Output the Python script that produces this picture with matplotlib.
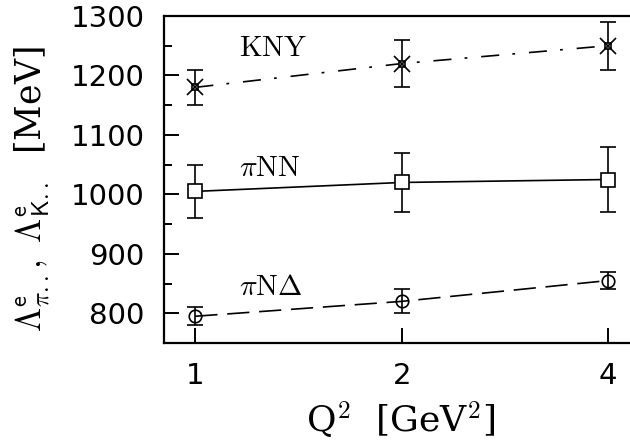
import matplotlib
matplotlib.use("Agg")
import matplotlib.pyplot as plt
from matplotlib.ticker import FixedLocator, NullLocator, MultipleLocator

plt.rcParams['mathtext.fontset'] = 'cm'
plt.rcParams['lines.scale_dashes'] = False

q2 = [1, 2, 4]
kny = [1180, 1220, 1250]
kny_err = [30, 40, 40]
pinn = [1005, 1020, 1025]
pinn_err = [45, 50, 55]
pind = [795, 820, 855]
pind_err = [15, 20, 15]
xticks = [1, 2, 4]
xticklabels = ['1', '2', '4']
yticks = [800, 900, 1000, 1100, 1200, 1300]

fig = plt.figure(figsize=(6.3, 4.44), dpi=100)
ax = fig.add_axes([164/630, 101/444, 1 - 164/630 + 0.01, 327/444])
ax.set_xscale('log')
ax.set_xlim(0.9, 4.4)
ax.set_ylim(750, 1300)

lw = 1.2
# KNY
ax.errorbar(q2, kny, yerr=kny_err, fmt='none', ecolor='black', elinewidth=lw, capsize=6, capthick=lw)
ax.plot(q2, kny, color='black', lw=lw, dashes=(13, 9.5, 2, 10))
ax.plot(q2, kny, ls='none', marker='s', ms=4, mfc='white', mec='black', mew=lw)
ax.plot(q2, kny, ls='none', marker='x', ms=11, mec='black', mew=lw)
# pi N N
ax.errorbar(q2, pinn, yerr=pinn_err, fmt='none', ecolor='black', elinewidth=lw, capsize=6, capthick=lw)
ax.plot(q2, pinn, color='black', lw=lw, ls='-')
ax.plot(q2, pinn, ls='none', marker='s', ms=9.5, mfc='white', mec='black', mew=lw)
# pi N Delta
ax.errorbar(q2, pind, yerr=pind_err, fmt='none', ecolor='black', elinewidth=lw, capsize=6, capthick=lw)
ax.plot(q2, pind, color='black', lw=lw, dashes=(16, 7))
ax.plot(q2, pind, ls='none', marker='o', ms=9, mfc='none', mec='black', mew=lw)

ax.text(1.157, 1246, r'$\rm KNY$', fontsize=21, ha='left', va='center')
ax.text(1.157, 1044, r'$\pi\rm NN$', fontsize=21, ha='left', va='center')
ax.text(1.157, 844, r'$\pi{\rm N}\Delta$', fontsize=21, ha='left', va='center')

ax.xaxis.set_major_locator(FixedLocator(xticks))
ax.set_xticklabels(xticklabels)
ax.xaxis.set_minor_locator(NullLocator())
ax.yaxis.set_major_locator(FixedLocator(yticks))
ax.yaxis.set_minor_locator(MultipleLocator(50))
ax.tick_params(axis='both', which='major', direction='in', length=11, width=1.4, labelsize=21, pad=14)
ax.tick_params(axis='y', which='minor', direction='in', length=6, width=1.4)
for s in ['left', 'bottom', 'top']:
    ax.spines[s].set_linewidth(1.6)
ax.spines['right'].set_visible(False)

ax.set_xlabel(r'Q$^2$  [GeV$^2$]', fontsize=26, labelpad=7, fontfamily='DejaVu Serif')
ax.set_ylabel(r'$\mathit{\Lambda}^{\mathsf{e}}_{\pi ..},\ \mathit{\Lambda}^{\mathsf{e}}_{\mathsf{K} ..}$  [MeV]',
              fontsize=25, fontfamily='DejaVu Serif')
ax.yaxis.set_label_coords(-0.235, 0.47)

fig.savefig('out.png', dpi=100)
